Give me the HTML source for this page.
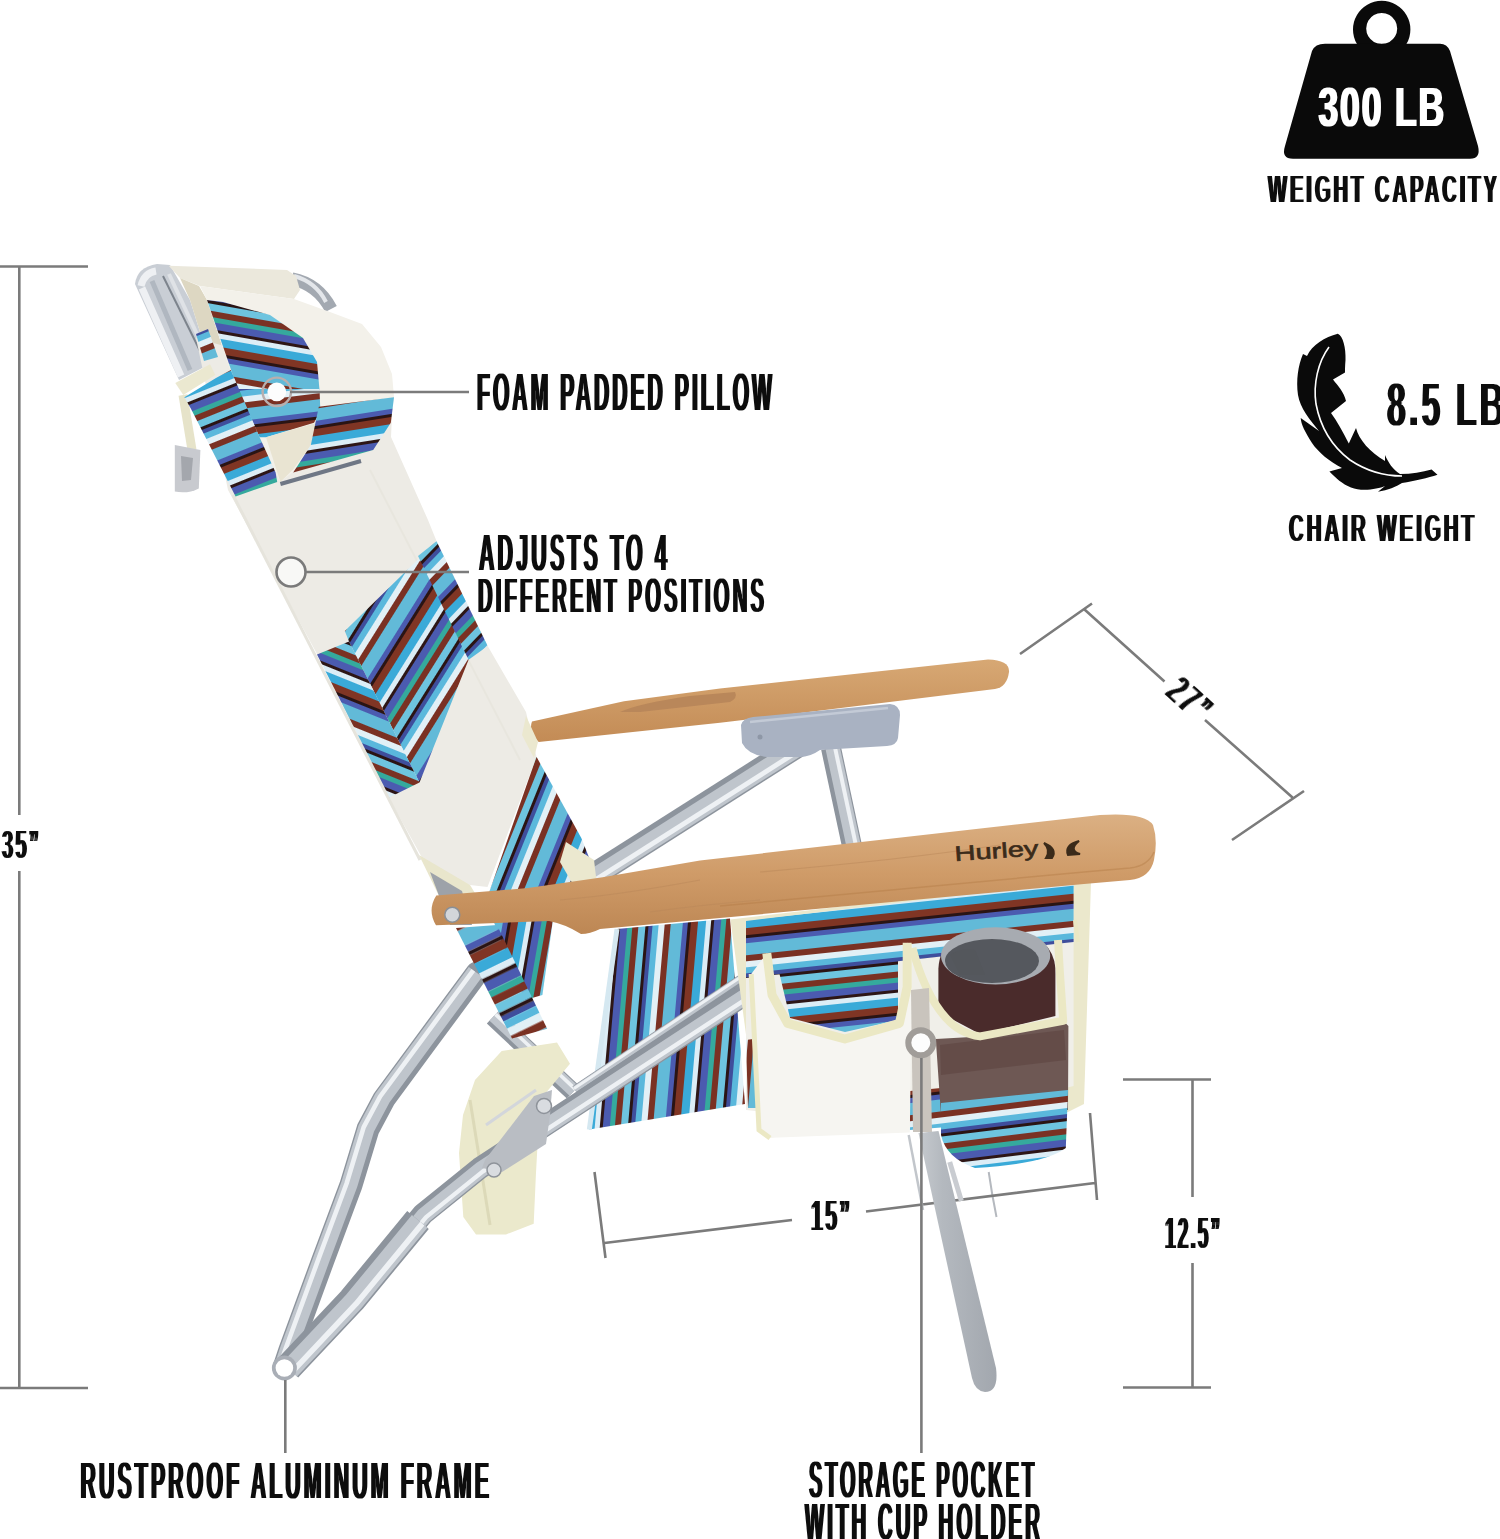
<!DOCTYPE html>
<html><head><meta charset="utf-8">
<style>
html,body{margin:0;padding:0;background:#fff;width:1500px;height:1539px;overflow:hidden}
svg{display:block}
.t{font-family:"Liberation Sans",sans-serif;font-weight:bold;fill:#111}
</style></head><body>
<svg width="1500" height="1539" viewBox="0 0 1500 1539">
<defs><filter id="cond2" x="-5%" y="-15%" width="110%" height="130%"><feMorphology operator="dilate" radius="1.4 0.01"/></filter><filter id="cond" x="-3%" y="-15%" width="106%" height="130%"><feMorphology operator="dilate" radius="0.6 0.01" result="a"/><feMorphology in="a" operator="erode" radius="0.01 1.2"/></filter></defs>
<rect width="1500" height="1539" fill="#fff"/>
<g id="chair"><defs>
<g id="stp">
<rect x="0" width="5" height="3000" fill="#dcedf6"/>
<rect x="5" width="3" height="3000" fill="#2d1616"/>
<rect x="8" width="7" height="3000" fill="#4b5bb0"/>
<rect x="15" width="5" height="3000" fill="#35a99d"/>
<rect x="20" width="6" height="3000" fill="#7a3123"/>
<rect x="26" width="7" height="3000" fill="#6ec4df"/>
<rect x="33" width="3" height="3000" fill="#2a1414"/>
<rect x="36" width="4" height="3000" fill="#3f4e9c"/>
<rect x="40" width="6" height="3000" fill="#5ab8dc"/>
<rect x="46" width="6" height="3000" fill="#e2f0f6"/>
<rect x="52" width="6" height="3000" fill="#7a3123"/>
<rect x="58" width="12" height="3000" fill="#62bad8"/>
<rect x="70" width="5" height="3000" fill="#4b5bb0"/>
<rect x="75" width="3" height="3000" fill="#2a1414"/>
<rect x="78" width="7" height="3000" fill="#803524"/>
<rect x="85" width="8" height="3000" fill="#3aaad8"/>
</g>
<pattern id="pPU" patternUnits="userSpaceOnUse" width="93" height="3000" patternTransform="translate(0 300) rotate(-80)"><use href="#stp"/></pattern>
<pattern id="pPL" patternUnits="userSpaceOnUse" width="93" height="3000" patternTransform="translate(0 380) rotate(83)"><use href="#stp"/></pattern>
<pattern id="pPR" patternUnits="userSpaceOnUse" width="93" height="3000" patternTransform="translate(0 400) rotate(81)"><use href="#stp"/></pattern>
<pattern id="pHS" patternUnits="userSpaceOnUse" width="93" height="3000" patternTransform="translate(180 400) rotate(68)"><use href="#stp"/></pattern>
<pattern id="pBand2b" patternUnits="userSpaceOnUse" width="93" height="3000" patternTransform="translate(380 0) rotate(32)"><use href="#stp"/></pattern>
<pattern id="pSeat" patternUnits="userSpaceOnUse" width="93" height="3000" patternTransform="translate(600 0) rotate(5)"><use href="#stp"/></pattern>
<pattern id="pBand2" patternUnits="userSpaceOnUse" width="93" height="3000" patternTransform="translate(400 0) rotate(44)"><use href="#stp"/></pattern>
<pattern id="pBand3" patternUnits="userSpaceOnUse" width="93" height="3000" patternTransform="translate(520 0) rotate(22)"><use href="#stp"/></pattern>
<pattern id="pHang" patternUnits="userSpaceOnUse" width="93" height="3000" patternTransform="translate(500 0) rotate(10)"><use href="#stp"/></pattern>
<pattern id="pPillow" patternUnits="userSpaceOnUse" width="93" height="3000" patternTransform="translate(0 300) rotate(-73)"><use href="#stp"/></pattern>
<pattern id="pPillow2" patternUnits="userSpaceOnUse" width="93" height="3000" patternTransform="translate(0 395) rotate(-84)"><use href="#stp"/></pattern>
<pattern id="pStrapL" patternUnits="userSpaceOnUse" width="93" height="3000" patternTransform="translate(0 380) rotate(-75)"><use href="#stp"/></pattern>
<pattern id="pStrap2" patternUnits="userSpaceOnUse" width="93" height="3000" patternTransform="translate(0 640) rotate(-68)"><use href="#stp"/></pattern>
<pattern id="pPocket" patternUnits="userSpaceOnUse" width="93" height="3000" patternTransform="translate(0 905) rotate(-96)"><use href="#stp"/></pattern>
<pattern id="pCup" patternUnits="userSpaceOnUse" width="93" height="3000" patternTransform="translate(0 1098) rotate(-97)"><use href="#stp"/></pattern>
<pattern id="pSleeve" patternUnits="userSpaceOnUse" width="93" height="3000" patternTransform="translate(470 0) rotate(64) scale(1.35 1)"><use href="#stp"/></pattern>
<linearGradient id="gWood" x1="0" y1="0" x2="0" y2="1"><stop offset="0" stop-color="#dbb083"/><stop offset="0.5" stop-color="#cf9b68"/><stop offset="1" stop-color="#bd8754"/></linearGradient>
<linearGradient id="gWood2" x1="0" y1="0" x2="0" y2="1"><stop offset="0" stop-color="#d7a874"/><stop offset="1" stop-color="#c38b55"/></linearGradient>
<linearGradient id="gLeg" x1="0" y1="0" x2="1" y2="0"><stop offset="0" stop-color="#9ea3ab"/><stop offset="0.35" stop-color="#d4d7dc"/><stop offset="1" stop-color="#a4a9b1"/></linearGradient>
</defs>

<!-- rear tube from bracket down-left (behind back) -->
<path d="M805.0 741.0 L594.0 875.0" stroke="#8d949d" stroke-width="24" stroke-linecap="butt" stroke-linejoin="round" fill="none"/>
<path d="M806.0 742.6 L595.0 876.6" stroke="#bfc5cc" stroke-width="17.3" stroke-linejoin="round" fill="none"/>
<path d="M807.6 745.1 L596.6 879.1" stroke="#eef1f4" stroke-width="4.8" stroke-linejoin="round" fill="none"/>
<!-- rear vertical tube -->
<path d="M831.0 748.0 L852.0 846.0" stroke="#8d949d" stroke-width="20" stroke-linecap="butt" stroke-linejoin="round" fill="none"/>
<path d="M832.6 747.7 L853.6 845.7" stroke="#bfc5cc" stroke-width="14.4" stroke-linejoin="round" fill="none"/>
<path d="M834.9 747.2 L855.9 845.2" stroke="#eef1f4" stroke-width="4.0" stroke-linejoin="round" fill="none"/>
<!-- rear armrest -->
<path d="M532 721.6L624 701.3L720 688.5L988 659.4Q1010 660 1009 672Q1007 687 995 689L720 722.8L538.7 742Q528 732 532 721.6Z" fill="url(#gWood2)"/>
<path d="M620 712Q640 703 690 696L735 692Q738 698 730 702L640 712Z" fill="#b9875a"/>
<!-- bracket -->
<path d="M741 725Q743 718 753 717L890 704Q900 705 900 715L898 738Q897 745 887 746L820 750Q810 757 800 757L767 757Q748 755 742 743Z" fill="#a9b2c2"/>
<path d="M750 722L888 708" stroke="#c3cad6" stroke-width="2.5" fill="none"/><circle cx="760" cy="737" r="2.5" fill="#8e97a6"/>

<!-- top aluminum loop -->
<path d="M292 279Q318 284 331 309" stroke="#a3a9b1" stroke-width="13" fill="none"/>
<path d="M294 276Q316 282 326 302" stroke="#e3e6ea" stroke-width="4" fill="none"/>
<path d="M135 284Q137 267 157 264L170 265L190 300L210 364L179 380Z" fill="#c9ced5"/>
<path d="M141 286Q144 273 156 271M142 288L181 376" stroke="#eef0f3" stroke-width="7" fill="none"/>
<path d="M152 281L190 370" stroke="#b0b7c0" stroke-width="5" fill="none"/>
<path d="M163 276L206 363" stroke="#7d848d" stroke-width="2" fill="none"/>
<path d="M169 274L209 360" stroke="#dfe2e6" stroke-width="4" fill="none"/>
<!-- pillow back top cream -->
<path d="M168.7 265.7L287 270L296 276L300 290L294 299L200 286L180 278Z" fill="#ebe8dc"/>
<path d="M180 278L199 286L207 300L230 370L216 378L210 364L190 300Z" fill="#ddd7c2"/>
<!-- latch -->
<path d="M183 395L192 450" stroke="#e6e3c9" stroke-width="9" fill="none"/>
<path d="M174.8 445L200.4 450L198.8 488.4Q188 494 174.8 491.6Z" fill="#c8cacf"/>
<path d="M181 456L193 458L191 480L182 481Z" fill="#a4a7ad"/>
<!-- back white panel -->
<path d="M196 338L393 394L391 437L428 520L436.5 541L487.7 646L526 712L536.5 757L487.5 887L470 885L430 872L390 800L317 654L228 490Z" fill="#edebe5"/>
<path d="M233 495L420 860" stroke="#e6e4dc" stroke-width="3" fill="none"/>
<path d="M370 470L520 760" stroke="#e8e6de" stroke-width="2" fill="none"/>
<!-- band 2 -->
<path d="M436.5 541.3L420 556L468.6 659.8L419.5 782.4L349 641.6L344.8 631Z" fill="url(#pBand2b)"/>
<path d="M436.5 541.3L487.7 645.9L468.6 659.8L418 556Z" fill="url(#pBand2)"/>
<path d="M317 654.4L349 641.6L419.5 782.4L389.6 797.3Z" fill="url(#pStrap2)"/>
<!-- band 3 below white panel -->
<path d="M536.5 756.8L581.3 837.9L594 870L575 905L487.5 897Z" fill="url(#pBand3)"/>
<!-- cream bits -->
<path d="M566 842L594 860L597 885L575 888L560 862Z" fill="#ebe8cf"/>
<path d="M526 716L538 742L534 758L522 735Z" fill="#ebe8cf"/>
<path d="M419 855L470 885L478 898L440 898Z" fill="#e9e6cc"/>
<!-- metal under back bottom left -->
<path d="M430 872L462 891L472 925L450 925Z" fill="#9da2a9"/>

<!-- pillow -->
<path d="M200 286L294 299L330 312L362 324L381 347L392 374L394 397L390 423L373 450L293 472L280 482L259.6 437L230 370L207 300Z" fill="#f3f1ea"/>
<path d="M207 300L223 302L270 315L303 338L317 362L319.5 390L238 390Z" fill="url(#pPU)"/>
<path d="M238 389L319.5 389L320.4 411.6L314 422.8L266 437.2L259.6 437.2Z" fill="url(#pPL)"/>
<path d="M266 437.2L317.2 422.8L310.8 445.2L293.2 469.2L280.4 482Z" fill="#e9e4d2"/>
<path d="M318.8 406.8L394 397.2L390.8 422.8L373.2 450L293.2 472.4L310.8 445.2Z" fill="url(#pPR)"/>
<path d="M184.4 397.2L216 378L230.8 370L259.6 437.2L275.6 472.4L277.2 482L235.6 496.4L190.8 408.4Z" fill="url(#pHS)"/>
<path d="M196 334L208 329L218 357L204 361Z" fill="url(#pHS)"/>
<path d="M175.3 383L210 364.3L215.3 375L183.3 395Z" fill="#ebe8d0"/>
<path d="M280.4 484L361 461" stroke="#6f7785" stroke-width="4" fill="none"/>
<!-- seat fabric hanging (left under armrest) -->
<path d="M493 920L553 920L542.4 995L525 1000Z" fill="url(#pHang)"/>
<!-- rear inner tube behind strap -->
<path d="M493.0 1017.0 L573.0 1092.0" stroke="#8d949d" stroke-width="18" stroke-linecap="butt" stroke-linejoin="round" fill="none"/>
<path d="M494.0 1015.9 L574.0 1090.9" stroke="#bfc5cc" stroke-width="13.0" stroke-linejoin="round" fill="none"/>
<path d="M495.5 1014.4 L575.5 1089.4" stroke="#eef1f4" stroke-width="3.6" stroke-linejoin="round" fill="none"/>
<!-- seat fabric main -->
<path d="M617 929L730 918.4L745 1104L589.3 1129.6Z" fill="url(#pSeat)"/>
<path d="M617 929L589.3 1129.6" stroke="#d5e8f1" stroke-width="5" fill="none"/>

<!-- tube A -->
<path d="M477.0 973.0 L426.0 1042.0 L384.0 1099.0 L368.0 1129.0 L351.0 1185.0 L323.0 1260.0 L290.0 1350.0 L284.0 1368.0" stroke="#8d949d" stroke-width="23" stroke-linecap="round" stroke-linejoin="round" fill="none"/>
<path d="M475.5 971.9 L424.5 1040.9 L382.4 1098.0 L366.3 1128.3 L349.3 1184.4 L321.3 1259.4 L288.3 1349.4 L282.3 1367.4" stroke="#bfc5cc" stroke-width="16.6" stroke-linejoin="round" fill="none"/>
<path d="M473.3 970.3 L422.3 1039.3 L380.1 1096.5 L363.7 1127.2 L346.6 1183.5 L318.7 1258.4 L285.7 1348.5 L279.6 1366.5" stroke="#eef1f4" stroke-width="4.6" stroke-linejoin="round" fill="none"/>
<!-- cream strap -->
<path d="M463 1115L475 1080L501.7 1051L557 1042.4L570 1063.7L540 1100L535.9 1174.7L533.7 1223.7L506 1234.4L476 1234.4L463.3 1217L459 1153Z" fill="#ebe9cc"/>
<path d="M470 1100L490 1225" stroke="#dcd9b8" stroke-width="3" fill="none"/>
<!-- striped sleeve -->
<path d="M456 928L497 925L547.2 1028.8L512 1038.4Z" fill="url(#pSleeve)"/>
<!-- tube B -->
<path d="M750.0 973.0 L575.0 1090.0" stroke="#8d949d" stroke-width="9" stroke-linecap="butt" stroke-linejoin="round" fill="none"/>
<path d="M749.6 972.4 L574.6 1089.4" stroke="#bfc5cc" stroke-width="6.5" stroke-linejoin="round" fill="none"/>
<path d="M749.0 971.5 L574.0 1088.5" stroke="#eef1f4" stroke-width="3.0" stroke-linejoin="round" fill="none"/>
<path d="M300.0 1354.0 L352.0 1300.0 L423.0 1214.0 L480.0 1168.0 L764.0 982.0" stroke="#8d949d" stroke-width="22" stroke-linecap="round" stroke-linejoin="round" fill="none"/>
<path d="M301.3 1355.2 L353.3 1301.2 L424.2 1215.3 L481.0 1169.4 L765.0 983.5" stroke="#bfc5cc" stroke-width="15.8" stroke-linejoin="round" fill="none"/>
<path d="M303.2 1357.1 L355.3 1302.9 L426.1 1217.1 L482.6 1171.6 L766.4 985.7" stroke="#eef1f4" stroke-width="4.4" stroke-linejoin="round" fill="none"/>
<path d="M288.0 1368.0 L352.0 1300.0 L418.0 1220.0" stroke="#8d949d" stroke-width="28" stroke-linecap="butt" stroke-linejoin="round" fill="none"/>
<path d="M289.6 1369.5 L353.7 1301.5 L419.7 1221.4" stroke="#bfc5cc" stroke-width="20.2" stroke-linejoin="round" fill="none"/>
<path d="M292.1 1371.8 L356.2 1303.7 L422.3 1223.6" stroke="#eef1f4" stroke-width="5.6" stroke-linejoin="round" fill="none"/>
<!-- foot end -->
<circle cx="284.4" cy="1368" r="12.5" fill="#a9aeb6"/>
<circle cx="284.4" cy="1368" r="8.8" fill="#fff"/>
<!-- bracket lower -->
<path d="M485 1160L534 1096L552 1090L550 1115L546 1144L502 1172L482 1168Z" fill="#b9bdc3"/>
<path d="M486 1125L536 1090" stroke="#d3d6db" stroke-width="3" fill="none"/>
<circle cx="544" cy="1106" r="7.5" fill="#d9dce0" stroke="#8e939a" stroke-width="1.5"/>
<circle cx="494" cy="1170" r="7" fill="#d9dce0" stroke="#8e939a" stroke-width="1.5"/>

<!-- front right leg: moved -->
<path d="M988.7 1172Q992 1195 996.5 1217" stroke="#b5b9bf" stroke-width="2" fill="none"/>
<!-- pocket backing -->
<path d="M730.4 919.4L1089.2 877.8L1091 882L1084 1104L1068 1112L766.8 1137.8L759 1130Z" fill="#ebe8cc"/>
<path d="M746 923L1073.6 884L1073.6 1086L907 1127L746 1110Z" fill="#f0efe9"/>
<path d="M746 921L1073.6 882L1073.6 942L746 978Z" fill="url(#pPocket)"/>
<path d="M909.8 1091L941 1088L941 1127.4L909.8 1130Z" fill="url(#pCup)"/>
<path d="M746 1040L760 1038L762 1108L748 1108Z" fill="url(#pSeat)"/>
<!-- left pocket front -->
<path d="M751.2 974L766.8 953.2L772 994.8L787.6 1023.4L844.8 1039L899.4 1023.4L907.2 987L907.2 942.8L912.4 945.4L909.8 1132.6L772 1137.8L759 1130Z" fill="#f6f5f1"/>
<path d="M775 955L898 945L898 1020L845 1032L790 1018Z" fill="url(#pPocket)"/>
<path d="M766.8 953.2L772 994.8L787.6 1023.4L844.8 1039L899.4 1023.4L907.2 987L907.2 942.8" stroke="#ebe8c4" stroke-width="9" fill="none" stroke-linejoin="round"/>
<path d="M751.2 974L759 1130L770 1138" stroke="#ebe8c4" stroke-width="5" fill="none"/>
<!-- tumbler -->
<path d="M938.4 968.8Q940 930 995.6 928Q1052 930 1055.4 968L1055.4 1016L980 1034L938.4 1012Z" fill="#4a2b2b"/>
<ellipse cx="995.6" cy="955.8" rx="54.6" ry="28.6" fill="#a7abb1"/>
<ellipse cx="992" cy="961" rx="47" ry="22" fill="#55585e"/>
<path d="M950 955Q960 948 975 950L985 975L960 975Z" fill="#54575c"/>
<!-- cup holder body -->
<path d="M935.8 1039L980 1036.4L1063.2 1020.8L1068.4 1026L1068 1110L941 1115Z" fill="#6e5854"/>
<path d="M940 1045L1064 1030L1066 1060L941 1075Z" fill="#5d4441" opacity="0.6"/>
<path d="M941 1103L1068 1090L1065.8 1148Q1045 1164 975 1168Q946 1158 941 1135Z" fill="url(#pCup)"/>
<path d="M912.4 948Q925 995 946.2 1018.2Q960 1034 980 1036.4L1063.2 1020.8L1060 974L1058 940" stroke="#ebe8c4" stroke-width="8" fill="none" stroke-linejoin="round"/>
<path d="M1075 920L1078 942" stroke="#ebe8c4" stroke-width="4" fill="none"/>

<!-- front armrest -->
<path d="M436.3 895.5L528 888L602.7 877.3L700 860.4L1100 815Q1145 812 1153 825Q1158 840 1154 860Q1150 878 1130 880L1084 884L720 918L600 929Q590 934 581 934Q565 924 549 921L436 925.3Q427 910 436.3 895.5Z" fill="url(#gWood)"/>
<path d="M720 906L1084 872L1130 868Q1148 866 1154 852" stroke="#b47c48" stroke-width="1.5" fill="none" opacity="0.45"/>
<path d="M560 900Q620 895 700 880M760 872Q900 860 1000 845M650 912Q700 905 760 900" stroke="#b9875a" stroke-width="1.2" fill="none" opacity="0.5"/>
<circle cx="452.3" cy="914.7" r="7.5" fill="#d3d6da" stroke="#8a8f96" stroke-width="1.5"/>
<text x="0" y="0" transform="translate(955 861) rotate(-4)" font-family="Liberation Sans, sans-serif" font-weight="normal" font-size="21" stroke="#3b2b1a" stroke-width="0.6" fill="#3b2b1a" textLength="84" lengthAdjust="spacingAndGlyphs">Hurley</text>
<path d="M1044 843Q1058 849 1052 858L1046 858Q1051 850 1044 843Z" fill="#3b2b1a" stroke="#3b2b1a" stroke-width="2"/><path d="M1079 841Q1064 845 1068 855L1080 854Q1068 850 1079 841Z" fill="#3b2b1a" stroke="#3b2b1a" stroke-width="2"/>

<!-- leader circles -->
<circle cx="276.8" cy="391.8" r="14.2" fill="none" stroke="#b9afae" stroke-width="2.4"/><circle cx="276.8" cy="391.8" r="9.4" fill="#fdfdfd"/>
<circle cx="291" cy="572" r="14.5" fill="#f8f8f6" stroke="#7a7a7a" stroke-width="2.6"/>
<path d="M911 990L929 988L932 1132L913 1132Z" fill="#c9c4bd"/><circle cx="920.8" cy="1042.8" r="12.5" fill="#fdfdfd" stroke="#a19d99" stroke-width="6"/>
</g>
<!-- dimension lines -->
<g stroke="#7b7b7b" stroke-width="2.6" fill="none">
<path d="M0 266.5H88M19.3 266.5V815M19.3 871V1388M0 1388H88"/>
<path d="M1020 654L1092 603.5M1084.5 609.5L1164.5 681.5M1205 720L1292.5 797.5M1232 840L1304 791"/>
<path d="M594.5 1172L605.5 1258M604.5 1243L792 1220M866 1211.5L1095 1183M1090 1113L1097 1200"/>
<path d="M1123 1079.5H1211M1192.5 1079.5V1197M1192.5 1263V1387.5M1123 1387.5H1211"/>
<path d="M290 392H469M305 572H469M285.3 1380V1453"/>
</g>
<g id="leg">
<linearGradient id="gLeg2" x1="0" y1="0" x2="1" y2="0"><stop offset="0" stop-color="#c6cace"/><stop offset="0.3" stop-color="#b4b9bf"/><stop offset="1" stop-color="#a2a7ae"/></linearGradient>
<path d="M908.7 1135L923 1210" stroke="#c2c6cb" stroke-width="2.5" fill="none"/>
<path d="M918.5 1133L938.5 1131L996 1368Q999 1392 985 1392Q975 1391 972 1378Z" fill="url(#gLeg2)"/>
<path d="M949.7 1162L961.4 1201" stroke="#c9ccd1" stroke-width="5" fill="none"/>
</g>
<path d="M921.4 1058V1453" stroke="#7b7b7b" stroke-width="2.6" fill="none"/>
<g id="labels">
<text class="t" x="477.00" y="411.00" font-size="55.23" letter-spacing="8" textLength="298.03" lengthAdjust="spacingAndGlyphs" filter="url(#cond)">FOAM PADDED PILLOW</text>
<text class="t" x="479.00" y="571.00" font-size="53.81" letter-spacing="8" textLength="191.01" lengthAdjust="spacingAndGlyphs" filter="url(#cond)">ADJUSTS TO 4</text>
<text class="t" x="478.00" y="613.00" font-size="50.85" letter-spacing="8" textLength="289.03" lengthAdjust="spacingAndGlyphs" filter="url(#cond)">DIFFERENT POSITIONS</text>
<text class="t" x="80.50" y="1499.00" font-size="53.81" letter-spacing="8" textLength="411.53" lengthAdjust="spacingAndGlyphs" filter="url(#cond)">RUSTPROOF ALUMINUM FRAME</text>
<text class="t" x="809.00" y="1498.00" font-size="53.78" letter-spacing="8" textLength="228.03" lengthAdjust="spacingAndGlyphs" filter="url(#cond)">STORAGE POCKET</text>
<text class="t" x="805.00" y="1539.50" font-size="53.07" letter-spacing="8" textLength="238.02" lengthAdjust="spacingAndGlyphs" filter="url(#cond)">WITH CUP HOLDER</text>
<text class="t" x="1268.00" y="203.00" font-size="40.70" letter-spacing="6" textLength="232.02" lengthAdjust="spacingAndGlyphs" filter="url(#cond)">WEIGHT CAPACITY</text>
<text class="t" x="1289.00" y="541.50" font-size="40.70" letter-spacing="6" textLength="188.02" lengthAdjust="spacingAndGlyphs" filter="url(#cond)">CHAIR WEIGHT</text>
<text class="t" x="1387.00" y="426.00" font-size="62.57" letter-spacing="6" textLength="120.15" lengthAdjust="spacingAndGlyphs" filter="url(#cond)">8.5 LB</text>
<text class="t" x="2.00" y="859.00" font-size="42.98" letter-spacing="5" textLength="39.19" lengthAdjust="spacingAndGlyphs" filter="url(#cond)">35”</text>
<text class="t" x="811.00" y="1231.00" font-size="45.06" letter-spacing="5" textLength="41.26" lengthAdjust="spacingAndGlyphs" filter="url(#cond)">15”</text>
<text class="t" x="1165.00" y="1249.00" font-size="45.75" letter-spacing="5" textLength="57.08" lengthAdjust="spacingAndGlyphs" filter="url(#cond)">12.5”</text>
<text class="t" x="0" y="0" font-size="41" letter-spacing="5" textLength="47" lengthAdjust="spacingAndGlyphs" filter="url(#cond)" transform="translate(1164 695) rotate(42)">27”</text>
</g>
<!-- weight icon -->
<g fill="#0a0a0a">
<path fill-rule="evenodd" d="M1381.7 0.8A28.7 28.7 0 1 1 1381.69 0.8ZM1381.7 13A15.5 15.5 0 1 0 1381.71 13Z"/>
<path d="M1325 43.7H1440Q1447 43.7 1450 51L1478 146Q1481 158.7 1470 158.7H1293Q1281 158.7 1285 146L1312 51Q1315 43.7 1325 43.7Z"/>
</g>
<text class="t" style="fill:#fff" x="1318.5" y="125.8" font-size="55.5" letter-spacing="3" textLength="127.5" lengthAdjust="spacingAndGlyphs" filter="url(#cond2)">300 LB</text>
<!-- feather -->
<g id="feather"><path fill="#0a0a0a" d="M1337.8 333.8C1343 336 1346 348 1345.5 360C1345 366 1345 370 1345 372.6L1333 379.5C1338 386 1344 392 1346 401L1331 413C1337 421 1343 432 1348.8 443.6L1356 428C1359 440 1370 452 1385 461L1385 455C1388 462 1393 470 1400 474C1412 474 1422 472 1431.6 469.5L1437.5 474.8C1428 478 1415 481 1402 483C1396 487 1388 490 1378 491.7L1385 486C1378 489 1362 492 1351 487.5C1342 484 1336 478 1329.4 471.5L1342 468C1330 462 1318 452 1312 443C1305 432 1301 424 1300.7 418L1319 431C1310 420 1300 408 1298 395C1296 380 1298 366 1303 354L1307 356C1312 345 1325 337 1337.8 333.8Z"/><path d="M1329 347C1318 362 1313 384 1316 404C1320 425 1330 445 1350 460C1368 472 1388 476 1402 476" stroke="#fff" stroke-width="1.6" fill="none"/></g>
</svg>
</body></html>
